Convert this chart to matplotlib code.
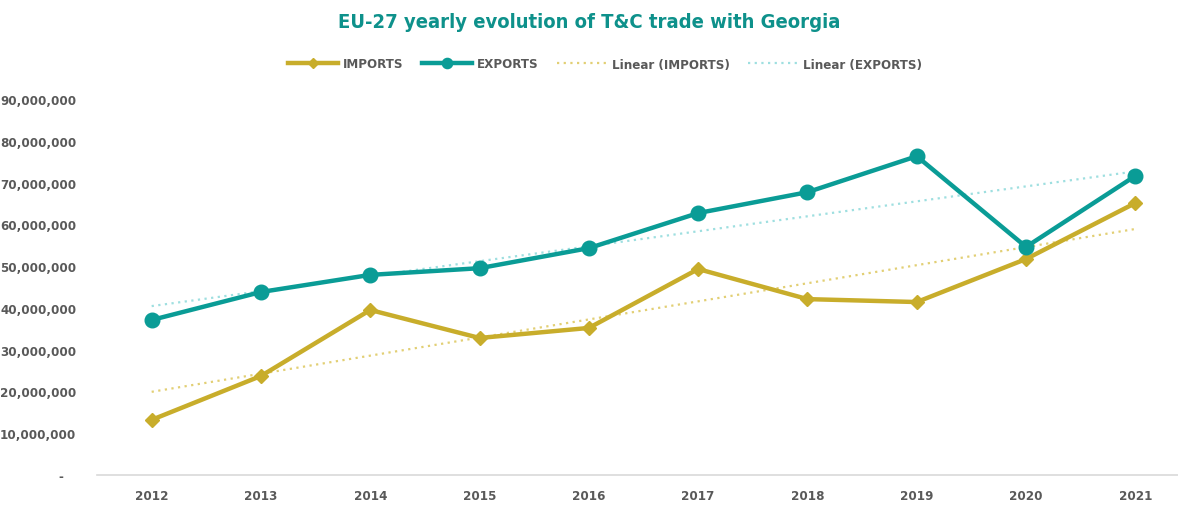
import numpy as np
import matplotlib.pyplot as plt
from matplotlib.ticker import FuncFormatter

years = ["2012", "2013", "2014", "2015", "2016", "2017", "2018", "2019", "2020", "2021"]
imports = [13.2e6, 23.7e6, 39.5e6, 32.8e6, 35.2e6, 49.3e6, 42.1e6, 41.4e6, 51.7e6, 65.1e6]
exports = [37.1e6, 43.8e6, 47.9e6, 49.5e6, 54.3e6, 62.7e6, 67.7e6, 76.3e6, 54.6e6, 71.6e6]

gold = "#C8AD2B"
teal = "#0A9C96"
gold_trend = "#E2CF74"
teal_trend = "#9EDFE0"
label_grey = "#595959"

plt.rcParams["font.family"] = ["DejaVu Sans"]
plt.rcParams["font.stretch"] = "condensed"
plt.rcParams["font.weight"] = "bold"

fig = plt.figure(figsize=(11.78, 5.06), dpi=100)
ax = fig.add_axes([97 / 1178, 1 - 476 / 506, 1 - 97 / 1178, (476 - 100) / 506])

x = np.arange(len(years))

# linear trend lines (least squares, like a spreadsheet trendline)
imp_fit = np.polyfit(x, imports, 1)
exp_fit = np.polyfit(x, exports, 1)

ax.plot(x, np.polyval(imp_fit, x), color=gold_trend, lw=1.6, ls=(0, (1, 2)),
        label="Linear (IMPORTS)", zorder=1)
ax.plot(x, np.polyval(exp_fit, x), color=teal_trend, lw=1.6, ls=(0, (1, 2)),
        label="Linear (EXPORTS)", zorder=1)

ax.plot(x, imports, color=gold, lw=3.2, marker="D", ms=7, label="IMPORTS", zorder=3)
ax.plot(x, exports, color=teal, lw=3.2, marker="o", ms=10.5, label="EXPORTS", zorder=4)

ax.set_xlim(-0.5, 9.39)
ax.set_ylim(0, 90e6)
ax.set_yticks(np.arange(0, 90e6 + 1, 10e6))
ax.yaxis.set_major_formatter(FuncFormatter(lambda v, p: "-   " if v == 0 else f"{v:,.0f}"))
ax.set_xticks(x)
ax.set_xticklabels(years)

for s in ["top", "right", "left"]:
    ax.spines[s].set_visible(False)
ax.spines["bottom"].set_color("#D9D9D9")
ax.spines["bottom"].set_linewidth(1.2)
ax.tick_params(axis="both", length=0, labelsize=9.5, labelcolor=label_grey)
ax.tick_params(axis="y", pad=15)
ax.tick_params(axis="x", pad=10)

handles, labels = ax.get_legend_handles_labels()
order = [2, 3, 0, 1]
fig.legend([handles[i] for i in order], [labels[i] for i in order],
           loc="center", bbox_to_anchor=(605 / 1178, 1 - 65 / 506), ncol=4, frameon=False,
           fontsize=9.5, labelcolor=label_grey, handlelength=3.8, columnspacing=1.4,
           handletextpad=0.35, markerscale=0.7)

fig.suptitle("EU-27 yearly evolution of T&C trade with Georgia", x=0.5, y=1 - 22 / 506,
             va="center", fontsize=14.5, color="#0E918B", fontweight="bold")

fig.savefig("out.png", dpi=100)
